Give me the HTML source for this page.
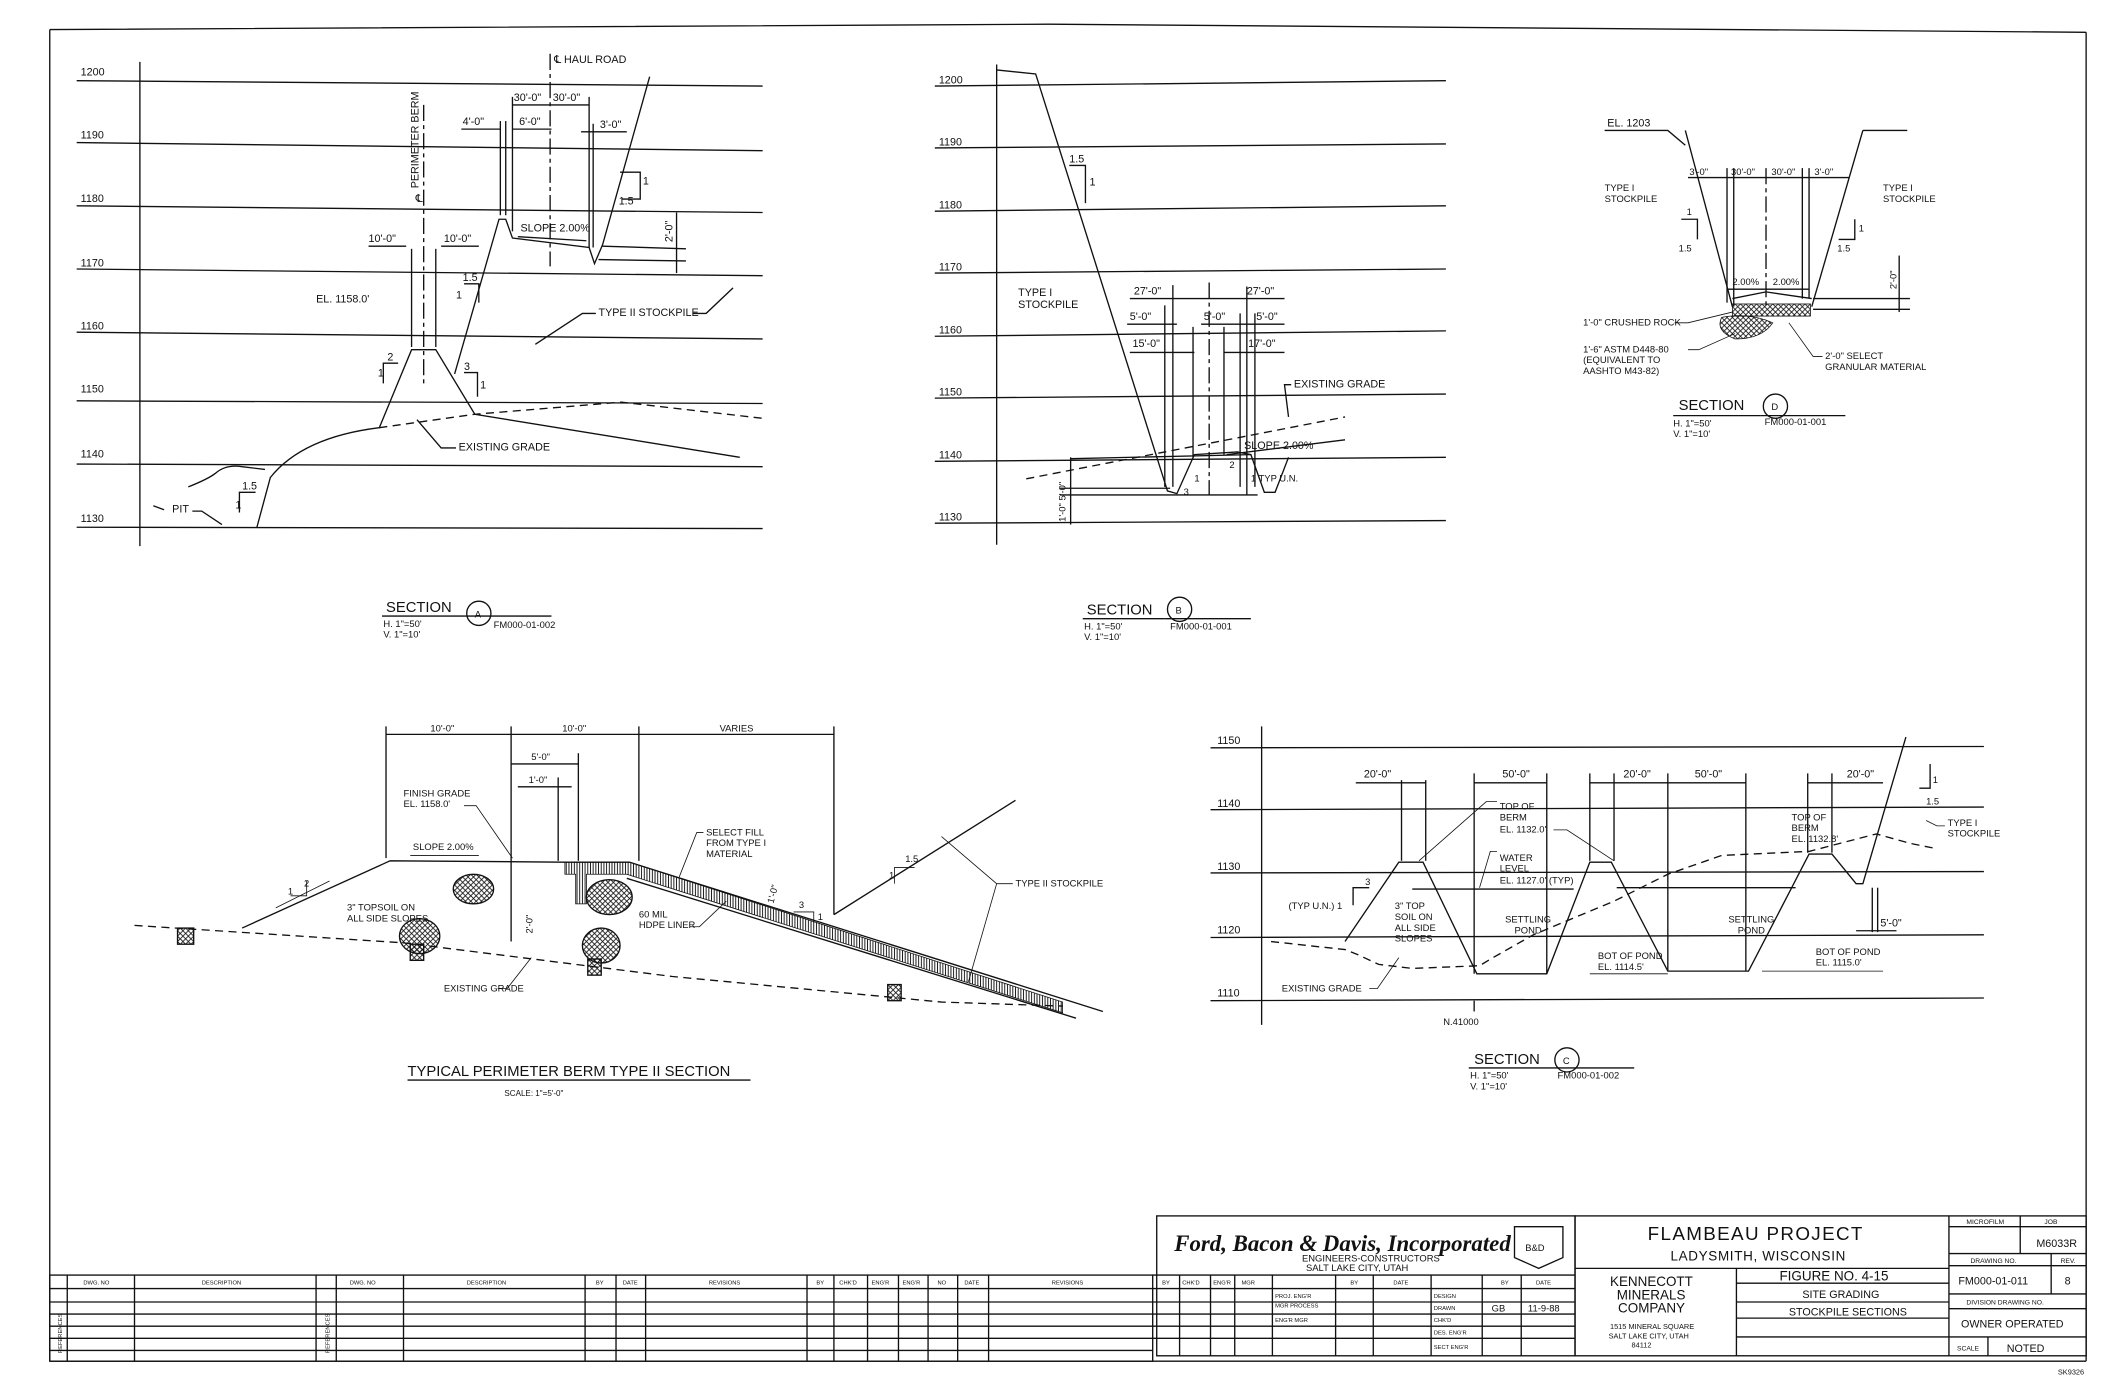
<!DOCTYPE html>
<html><head><meta charset="utf-8"><style>
html,body{margin:0;padding:0;background:#fff;}
svg{display:block;}
text{font-family:"Liberation Sans Narrow","Liberation Sans",sans-serif;font-size:8px;fill:#111;}
text.t{font-size:7px}
g.s text, text.s{font-size:4.3px}
g.f5 text{font-size:5px}
g.f55 text{font-size:5.5px}
line,path,polyline,rect,circle,ellipse{stroke:#111;fill:none;stroke-width:1}
.g{stroke-width:1.1}
.d{stroke-dasharray:6 4}
.c{stroke-dasharray:12 3 3 3}
.th{stroke-width:0.6}
</style></head><body>
<svg width="2109" height="1380" viewBox="0 0 1568 1026" preserveAspectRatio="none" xmlns="http://www.w3.org/2000/svg">
<defs>
<pattern id="hx" width="4" height="4" patternUnits="userSpaceOnUse"><path d="M0 4L4 0M0 0L4 4" style="stroke:#111;stroke-width:0.6"/></pattern>
<pattern id="vl" width="2" height="2" patternUnits="userSpaceOnUse"><path d="M1 0V2" style="stroke:#111;stroke-width:0.7"/></pattern>
</defs>
<!-- border -->
<path d="M37 22 Q400 20 780 18 Q1100 22 1551 24" stroke-width="2.2"/>
<line x1="37" y1="22" x2="37" y2="1012" stroke-width="2"/>
<line x1="1551" y1="24" x2="1551" y2="1012" stroke-width="2"/>
<line x1="37" y1="1012" x2="1551" y2="1012" stroke-width="1.5"/>

<!-- ========== SECTION A ========== -->
<g class="g">
<line x1="57" y1="60" x2="567" y2="64"/><line x1="57" y1="106" x2="567" y2="112"/>
<line x1="57" y1="153" x2="567" y2="158"/><line x1="57" y1="200" x2="567" y2="205"/>
<line x1="57" y1="247" x2="567" y2="252"/><line x1="57" y1="298" x2="567" y2="300"/>
<line x1="57" y1="345" x2="567" y2="347"/><line x1="57" y1="392" x2="567" y2="393"/>
</g>
<line x1="104" y1="46" x2="104" y2="406"/>
<text x="60" y="56">1200</text><text x="60" y="103">1190</text><text x="60" y="150">1180</text><text x="60" y="198">1170</text><text x="60" y="245">1160</text><text x="60" y="292">1150</text><text x="60" y="340">1140</text><text x="60" y="388">1130</text>
<path d="M191 392 L201 355 Q225 325 282 318 L306 260 L324 260 L353 308 L550 340"/>
<path class="d" d="M282 318 L353 308 L462 299 L567 311"/>
<path d="M140 362 Q155 356 160 352 Q168 345 180 347 L197 349"/>
<path d="M338 278 L371 163 L376 163 L381 177 L438 184 L442 196 L448 182 L483 57"/>
<line x1="448" y1="183" x2="510" y2="185"/><line x1="445" y1="193" x2="510" y2="194"/>
<line class="c" x1="315" y1="78" x2="315" y2="285"/>
<line class="c" x1="409" y1="40" x2="409" y2="198"/>
<text x="412" y="47">℄ HAUL ROAD</text>
<text transform="translate(311,140) rotate(-90)">PERIMETER BERM</text>
<text x="309" y="150">℄</text>
<line x1="306" y1="185" x2="306" y2="258"/><line x1="324" y1="185" x2="324" y2="258"/>
<line x1="274" y1="183" x2="302" y2="183"/><line x1="328" y1="183" x2="356" y2="183"/>
<text x="274" y="180">10'-0"</text><text x="330" y="180">10'-0"</text>
<line x1="372" y1="90" x2="372" y2="160"/><line x1="376" y1="90" x2="376" y2="160"/><line x1="381" y1="72" x2="381" y2="172"/>
<line x1="438" y1="72" x2="438" y2="184"/><line x1="441" y1="92" x2="441" y2="184"/>
<line x1="381" y1="78" x2="438" y2="78"/><text x="382" y="75">30'-0"</text><text x="411" y="75">30'-0"</text>
<line x1="343" y1="96" x2="372" y2="96"/><text x="344" y="93">4'-0"</text>
<line x1="381" y1="96" x2="410" y2="96"/><text x="386" y="93">6'-0"</text>
<line x1="432" y1="98" x2="466" y2="98"/><text x="446" y="95">3'-0"</text>
<text x="387" y="172">SLOPE 2.00%</text><line x1="385" y1="176" x2="436" y2="179"/>
<line x1="503" y1="158" x2="503" y2="203"/><text transform="translate(500,180) rotate(-90)">2'-0"</text>
<path d="M461 128 L476 128 L476 148 L462 148"/><text x="478" y="137">1</text><text x="460" y="152">1.5</text>
<text x="235" y="225">EL. 1158.0'</text>
<path d="M345 211 L356 211 L356 225"/><text x="344" y="209">1.5</text><text x="339" y="222">1</text>
<path d="M285 285 L285 270 L296 270"/><text x="288" y="268">2</text><text x="281" y="280">1</text>
<path d="M345 277 L355 277 L355 295"/><text x="345" y="275">3</text><text x="357" y="289">1</text>
<path d="M178 381 L178 366 L190 366"/><text x="180" y="364">1.5</text><text x="175" y="378">1</text>
<text x="445" y="235">TYPE II STOCKPILE</text>
<path d="M443 233 L433 233 L398 256"/><path d="M515 233 L525 233 L545 214"/>
<text x="341" y="335">EXISTING GRADE</text><path d="M339 333 L328 333 L310 312"/>
<text x="128" y="381">PIT</text><path d="M114 376 L122 379 M143 380 L150 380 L165 390"/>
<text x="287" y="455" style="font-size:11px">SECTION</text><line x1="284" y1="458" x2="345" y2="458"/>
<circle cx="356" cy="456" r="9"/><text x="353" y="459" class="t">A</text>
<text x="285" y="466" class="t">H. 1"=50'</text><text x="285" y="474" class="t">V. 1"=10'</text>
<line x1="345" y1="458" x2="410" y2="458"/><text x="367" y="467" class="t">FM000-01-002</text>

<!-- ========== SECTION B ========== -->
<g class="g">
<line x1="695" y1="64" x2="1075" y2="60"/><line x1="695" y1="110" x2="1075" y2="107"/>
<line x1="695" y1="157" x2="1075" y2="153"/><line x1="695" y1="203" x2="1075" y2="200"/>
<line x1="695" y1="250" x2="1075" y2="246"/><line x1="695" y1="296" x2="1075" y2="293"/>
<line x1="695" y1="343" x2="1075" y2="340"/><line x1="695" y1="389" x2="1075" y2="387"/>
</g>
<line x1="741" y1="48" x2="741" y2="405"/>
<text x="698" y="62">1200</text><text x="698" y="108">1190</text><text x="698" y="155">1180</text><text x="698" y="201">1170</text><text x="698" y="248">1160</text><text x="698" y="294">1150</text><text x="698" y="341">1140</text><text x="698" y="387">1130</text>
<path d="M741 52 L770 55 L868 365 L875 367 L888 338 L920 336 L930 338 L940 366 L948 366 L958 340"/>
<path class="d" d="M763 356 L1000 310"/>
<line x1="796" y1="341" x2="930" y2="338"/>
<line x1="788" y1="363" x2="870" y2="363"/><line x1="788" y1="368" x2="935" y2="368"/>
<line x1="796" y1="340" x2="796" y2="390"/>
<text transform="translate(792,388) rotate(-90)" class="t">1'-0"  5'-0"</text>
<g class="th">
<line x1="866" y1="227" x2="866" y2="362"/><line x1="872" y1="212" x2="872" y2="362"/><line x1="887" y1="243" x2="887" y2="340"/>
<line class="c" x1="899" y1="210" x2="899" y2="368"/><line x1="910" y1="243" x2="910" y2="338"/>
<line x1="922" y1="233" x2="922" y2="362"/><line x1="927" y1="213" x2="927" y2="368"/><line x1="933" y1="233" x2="933" y2="362"/>
</g>
<line x1="840" y1="222" x2="955" y2="222"/><text x="843" y="219">27'-0"</text><text x="927" y="219">27'-0"</text>
<line x1="838" y1="241" x2="875" y2="241"/><text x="840" y="238">5'-0"</text>
<line x1="893" y1="241" x2="955" y2="241"/><text x="895" y="238">5'-0"</text><text x="934" y="238">5'-0"</text>
<line x1="840" y1="262" x2="888" y2="262"/><text x="842" y="258">15'-0"</text>
<line x1="910" y1="262" x2="955" y2="262"/><text x="928" y="258">17'-0"</text>
<text x="757" y="220">TYPE I</text><text x="757" y="229">STOCKPILE</text>
<path d="M795 123 L807 123 L807 151"/><text x="795" y="121">1.5</text><text x="810" y="138">1</text>
<text x="962" y="288">EXISTING GRADE</text><path d="M960 286 L955 286 L958 310"/>
<text x="925" y="334">SLOPE 2.00%</text><line x1="912" y1="338" x2="1000" y2="327"/>
<text x="914" y="348" class="t">2</text><text x="930" y="358" class="t">1 TYP U.N.</text>
<text x="880" y="368" class="t">3</text><text x="888" y="358" class="t">1</text>
<text x="808" y="457" style="font-size:11px">SECTION</text><line x1="805" y1="460" x2="866" y2="460"/>
<circle cx="877" cy="453" r="9"/><text x="874" y="456" class="t">B</text>
<text x="806" y="468" class="t">H. 1"=50'</text><text x="806" y="476" class="t">V. 1"=10'</text>
<line x1="866" y1="460" x2="930" y2="460"/><text x="870" y="468" class="t">FM000-01-001</text>

<!-- ========== SECTION D ========== -->
<text x="1195" y="94">EL. 1203</text><path d="M1193 97 L1240 97 L1253 108"/>
<path d="M1253 97 L1288 228"/><path d="M1385 97 L1347 228"/><line x1="1385" y1="97" x2="1418" y2="97"/>
<g class="th">
<line x1="1284" y1="125" x2="1284" y2="225"/><line x1="1289" y1="125" x2="1289" y2="228"/>
<line class="c" x1="1313" y1="125" x2="1313" y2="230"/>
<line x1="1340" y1="125" x2="1340" y2="222"/><line x1="1345" y1="125" x2="1345" y2="222"/>
</g>
<line x1="1255" y1="132" x2="1375" y2="132"/>
<text x="1256" y="130" class="t">3'-0"</text><text x="1287" y="130" class="t">30'-0"</text><text x="1317" y="130" class="t">30'-0"</text><text x="1349" y="130" class="t">3'-0"</text>
<text x="1193" y="142" class="t">TYPE I</text><text x="1193" y="150" class="t">STOCKPILE</text>
<text x="1400" y="142" class="t">TYPE I</text><text x="1400" y="150" class="t">STOCKPILE</text>
<path d="M1250 163 L1262 163 L1262 178"/><text x="1254" y="160" class="t">1</text><text x="1248" y="187" class="t">1.5</text>
<path d="M1367 178 L1379 178 L1379 163"/><text x="1382" y="172" class="t">1</text><text x="1366" y="187" class="t">1.5</text>
<path d="M1288 222 L1313 217 L1347 222"/>
<text x="1288" y="212" class="t">2.00%</text><text x="1318" y="212" class="t">2.00%</text>
<line x1="1284" y1="215" x2="1345" y2="215"/>
<line x1="1348" y1="222" x2="1420" y2="222"/><line x1="1348" y1="230" x2="1420" y2="230"/>
<line x1="1412" y1="190" x2="1412" y2="232"/><text transform="translate(1410,215) rotate(-90)" class="t">2'-0"</text>
<rect x="1288" y="226" width="58" height="9" style="fill:url(#hx)" class="th"/>
<path d="M1280 236 Q1300 232 1318 240 Q1310 252 1290 252 Q1275 246 1280 236Z" style="fill:url(#hx)" class="th"/>
<text x="1177" y="242" class="t">1'-0" CRUSHED ROCK</text><path d="M1245 240 L1255 240 L1288 232" class="th"/>
<text x="1177" y="262" class="t">1'-6" ASTM D448-80</text><text x="1177" y="270" class="t">(EQUIVALENT TO</text><text x="1177" y="278" class="t">AASHTO M43-82)</text>
<path d="M1255 260 L1263 260 L1290 248" class="th"/>
<text x="1357" y="267" class="t">2'-0" SELECT</text><text x="1357" y="275" class="t">GRANULAR MATERIAL</text>
<path d="M1355 265 L1348 265 L1330 240" class="th"/>
<text x="1248" y="305" style="font-size:11px">SECTION</text><line x1="1244" y1="309" x2="1309" y2="309"/>
<circle cx="1320" cy="302" r="9"/><text x="1317" y="305" class="t">D</text>
<text x="1244" y="317" class="t">H. 1"=50'</text><text x="1244" y="325" class="t">V. 1"=10'</text>
<line x1="1309" y1="309" x2="1372" y2="309"/><text x="1312" y="316" class="t">FM000-01-001</text>

<!-- ========== SECTION C ========== -->
<g class="g">
<line x1="900" y1="556" x2="1475" y2="555"/><line x1="900" y1="602" x2="1475" y2="600"/>
<line x1="900" y1="649" x2="1475" y2="648"/><line x1="900" y1="697" x2="1475" y2="695"/>
<line x1="900" y1="744" x2="1475" y2="742"/>
</g>
<line x1="938" y1="540" x2="938" y2="762"/>
<text x="905" y="553">1150</text><text x="905" y="600">1140</text><text x="905" y="647">1130</text><text x="905" y="694">1120</text><text x="905" y="741">1110</text>
<path d="M1000 700 L1040 641 L1058 641 L1098 724 L1150 724 L1182 641 L1198 641 L1240 722 L1300 722 L1345 635 L1362 635 L1380 657 L1385 657 L1417 548"/>
<line x1="1050" y1="661" x2="1170" y2="661"/><line x1="1202" y1="660" x2="1335" y2="660"/>
<path class="d" d="M945 700 L1000 706 L1010 710 L1025 717 L1050 720 L1100 718 L1110 712 L1140 695 L1200 670 L1240 650 L1280 636 L1345 633 L1395 620 L1420 627 L1440 631"/>
<g class="th">
<line x1="1042" y1="580" x2="1042" y2="640"/><line x1="1060" y1="580" x2="1060" y2="640"/>
<line x1="1096" y1="575" x2="1096" y2="724"/><line x1="1150" y1="575" x2="1150" y2="724"/>
<line x1="1182" y1="575" x2="1182" y2="640"/><line x1="1200" y1="575" x2="1200" y2="640"/>
<line x1="1240" y1="575" x2="1240" y2="722"/><line x1="1298" y1="575" x2="1298" y2="722"/>
<line x1="1344" y1="575" x2="1344" y2="634"/><line x1="1362" y1="575" x2="1362" y2="634"/>
<line x1="1392" y1="660" x2="1392" y2="693"/><line x1="1396" y1="660" x2="1396" y2="693"/>
</g>
<line x1="1008" y1="582" x2="1060" y2="582"/><text x="1014" y="578">20'-0"</text>
<line x1="1096" y1="582" x2="1150" y2="582"/><text x="1117" y="578">50'-0"</text>
<line x1="1182" y1="582" x2="1240" y2="582"/><text x="1207" y="578">20'-0"</text>
<line x1="1240" y1="582" x2="1298" y2="582"/><text x="1260" y="578">50'-0"</text>
<line x1="1344" y1="582" x2="1400" y2="582"/><text x="1373" y="578">20'-0"</text>
<line x1="1380" y1="692" x2="1410" y2="692"/><text x="1398" y="689">5'-0"</text>
<path d="M1427 586 L1435 586 L1435 568"/><text x="1437" y="582" class="t">1</text><text x="1432" y="598" class="t">1.5</text>
<text x="1448" y="614" class="t">TYPE I</text><text x="1448" y="622" class="t">STOCKPILE</text><path d="M1446 614 L1440 614 L1432 610" class="th"/>
<text x="1115" y="602" class="t">TOP OF</text><text x="1115" y="610" class="t">BERM</text><text x="1115" y="619" class="t">EL. 1132.0'</text>
<path d="M1113 596 L1105 596 L1055 640 M1155 617 L1165 617 L1200 640" class="th"/>
<text x="1115" y="640" class="t">WATER</text><text x="1115" y="648" class="t">LEVEL</text><text x="1115" y="657" class="t">EL. 1127.0' (TYP)</text>
<path d="M1113 633 L1108 633 L1100 660" class="th"/>
<text x="1119" y="686" class="t">SETTLING</text><text x="1126" y="694" class="t">POND</text>
<text x="1285" y="686" class="t">SETTLING</text><text x="1292" y="694" class="t">POND</text>
<text x="1188" y="713" class="t">BOT OF POND</text><text x="1188" y="721" class="t">EL. 1114.5'</text><line x1="1182" y1="724" x2="1240" y2="724" class="th"/>
<text x="1332" y="610" class="t">TOP OF</text><text x="1332" y="618" class="t">BERM</text><text x="1332" y="626" class="t">EL. 1132.8'</text>
<text x="1350" y="710" class="t">BOT OF POND</text><text x="1350" y="718" class="t">EL. 1115.0'</text><line x1="1310" y1="722" x2="1400" y2="722" class="th"/>
<path d="M1006 673 L1006 660 L1018 660"/><text x="1015" y="658" class="t">3</text>
<text x="958" y="676" class="t">(TYP U.N.) 1</text>
<text x="1037" y="676" class="t">3" TOP</text><text x="1037" y="684" class="t">SOIL ON</text><text x="1037" y="692" class="t">ALL SIDE</text><text x="1037" y="700" class="t">SLOPES</text>
<text x="953" y="737" class="t">EXISTING GRADE</text><path d="M1018 735 L1024 735 L1040 712" class="th"/>
<line x1="1096" y1="744" x2="1096" y2="752"/><text x="1073" y="762" class="t">N.41000</text>
<text x="1096" y="791" style="font-size:11px">SECTION</text><line x1="1092" y1="794" x2="1155" y2="794"/>
<circle cx="1165" cy="788" r="9"/><text x="1162" y="791" class="t">C</text>
<text x="1093" y="802" class="t">H. 1"=50'</text><text x="1093" y="810" class="t">V. 1"=10'</text>
<line x1="1155" y1="794" x2="1215" y2="794"/><text x="1158" y="802" class="t">FM000-01-002</text>

<!-- ========== TYPICAL BERM ========== -->
<g class="th">
<line x1="287" y1="540" x2="287" y2="638"/><line x1="380" y1="540" x2="380" y2="700"/>
<line x1="475" y1="540" x2="475" y2="640"/><line x1="620" y1="540" x2="620" y2="680"/>
<line x1="430" y1="560" x2="430" y2="640"/><line x1="415" y1="578" x2="415" y2="640"/>
</g>
<line x1="287" y1="546" x2="620" y2="546"/>
<text x="320" y="544" class="t">10'-0"</text><text x="418" y="544" class="t">10'-0"</text><text x="535" y="544" class="t">VARIES</text>
<line x1="380" y1="568" x2="430" y2="568"/><text x="395" y="565" class="t">5'-0"</text>
<line x1="385" y1="585" x2="425" y2="585"/><text x="393" y="582" class="t">1'-0"</text>
<path d="M180 690 L290 640 L420 641 L468 641 L820 752"/>
<path d="M420 641 L468 641 L790 745 L790 753 L466 650 L436 650 L436 672 L428 672 L428 650 L420 650Z" style="fill:url(#vl)" class="th"/>
<line x1="466" y1="653" x2="800" y2="757"/>
<path class="d" d="M100 688 L300 701 L500 726 L700 745 L790 748" stroke-width="0.8"/>
<line x1="620" y1="680" x2="755" y2="595"/>
<g class="th" style="fill:url(#hx)">
<ellipse cx="352" cy="661" rx="15" ry="11" style="fill:url(#hx)"/><ellipse cx="453" cy="667" rx="17" ry="13" style="fill:url(#hx)"/>
<ellipse cx="312" cy="696" rx="15" ry="13" style="fill:url(#hx)"/><ellipse cx="447" cy="703" rx="14" ry="13" style="fill:url(#hx)"/>
<rect x="132" y="690" width="12" height="12" style="fill:url(#hx)"/><rect x="305" y="702" width="10" height="12" style="fill:url(#hx)"/>
<rect x="437" y="713" width="10" height="12" style="fill:url(#hx)"/><rect x="660" y="732" width="10" height="12" style="fill:url(#hx)"/>
</g>
<text x="300" y="592" class="t">FINISH GRADE</text><text x="300" y="600" class="t">EL. 1158.0'</text>
<path d="M345 599 L354 599 L381 638" class="th"/>
<text x="307" y="632" class="t">SLOPE 2.00%</text><line x1="305" y1="636" x2="356" y2="636" class="th"/>
<path d="M216 666 L228 666 L228 655" class="th"/><text x="226" y="659" class="t">2</text><text x="214" y="665" class="t">1</text>
<line x1="205" y1="675" x2="245" y2="655" class="th"/>
<text x="258" y="677" class="t">3" TOPSOIL ON</text><text x="258" y="685" class="t">ALL SIDE SLOPES</text>
<text transform="translate(396,694) rotate(-90)" class="t">2'-0"</text>
<text x="525" y="621" class="t">SELECT FILL</text><text x="525" y="629" class="t">FROM TYPE I</text><text x="525" y="637" class="t">MATERIAL</text>
<path d="M523 619 L518 619 L505 652" class="th"/>
<text x="475" y="682" class="t">60 MIL</text><text x="475" y="690" class="t">HDPE LINER</text>
<path d="M513 689 L520 689 L540 670" class="th"/>
<text transform="translate(575,672) rotate(-75)" class="t">1'-0"</text>
<path d="M590 678 L605 678 L605 686" class="th"/><text x="594" y="675" class="t">3</text><text x="608" y="684" class="t">1</text>
<path d="M665 657 L665 645 L680 645" class="th"/><text x="673" y="641" class="t">1.5</text><text x="661" y="653" class="t">1</text>
<text x="755" y="659" class="t">TYPE II STOCKPILE</text>
<path d="M753 657 L741 657 L700 622 M741 657 L720 730" class="th"/>
<text x="330" y="737" class="t">EXISTING GRADE</text><path d="M370 735 L377 735 L395 712" class="th"/>
<text x="303" y="800" style="font-size:11px">TYPICAL PERIMETER BERM TYPE II SECTION</text>
<line x1="303" y1="803" x2="558" y2="803"/>
<text x="375" y="815" style="font-size:6px">SCALE: 1"=5'-0"</text>

<!-- ========== TITLE BLOCK ========== -->
<g class="th">
<rect x="37" y="948" width="820" height="64"/>
<line x1="37" y1="958" x2="857" y2="958"/>
<line x1="37" y1="968" x2="857" y2="968"/><line x1="37" y1="977" x2="857" y2="977"/>
<line x1="37" y1="986" x2="857" y2="986"/><line x1="37" y1="995" x2="857" y2="995"/><line x1="37" y1="1004" x2="857" y2="1004"/>
<line x1="50" y1="948" x2="50" y2="1012"/><line x1="100" y1="948" x2="100" y2="1012"/><line x1="235" y1="948" x2="235" y2="1012"/>
<line x1="250" y1="948" x2="250" y2="1012"/><line x1="300" y1="948" x2="300" y2="1012"/><line x1="435" y1="948" x2="435" y2="1012"/>
<line x1="458" y1="948" x2="458" y2="1012"/><line x1="480" y1="948" x2="480" y2="1012"/><line x1="600" y1="948" x2="600" y2="1012"/>
<line x1="620" y1="948" x2="620" y2="1012"/><line x1="645" y1="948" x2="645" y2="1012"/><line x1="668" y1="948" x2="668" y2="1012"/>
<line x1="690" y1="948" x2="690" y2="1012"/><line x1="712" y1="948" x2="712" y2="1012"/><line x1="735" y1="948" x2="735" y2="1012"/>
</g>
<g class="s">
<text x="62" y="955">DWG. NO</text><text x="150" y="955">DESCRIPTION</text><text x="260" y="955">DWG. NO</text><text x="347" y="955">DESCRIPTION</text>
<text x="443" y="955">BY</text><text x="463" y="955">DATE</text><text x="527" y="955">REVISIONS</text><text x="607" y="955">BY</text><text x="624" y="955">CHK'D</text><text x="648" y="955">ENG'R</text><text x="671" y="955">ENG'R</text>
<text x="697" y="955">NO</text><text x="717" y="955">DATE</text><text x="782" y="955">REVISIONS</text>
<text transform="translate(46,1006) rotate(-90)">REFERENCES</text>
<text transform="translate(245,1006) rotate(-90)">REFERENCES</text>
</g>
<!-- Ford box -->
<g class="th">
<rect x="860" y="904" width="311" height="104" stroke-width="1.2"/>
<line x1="857" y1="948" x2="1171" y2="948"/>
<line x1="857" y1="958" x2="1171" y2="958"/><line x1="857" y1="968" x2="1171" y2="968"/>
<line x1="857" y1="977" x2="1171" y2="977"/><line x1="857" y1="986" x2="1171" y2="986"/><line x1="857" y1="995" x2="1171" y2="995"/>
<line x1="877" y1="948" x2="877" y2="1008"/><line x1="900" y1="948" x2="900" y2="1008"/><line x1="918" y1="948" x2="918" y2="1008"/>
<line x1="946" y1="948" x2="946" y2="1008"/><line x1="993" y1="948" x2="993" y2="1008"/><line x1="1021" y1="948" x2="1021" y2="1008"/>
<line x1="1064" y1="948" x2="1064" y2="1008"/><line x1="1102" y1="948" x2="1102" y2="1008"/><line x1="1131" y1="948" x2="1131" y2="1008"/>
</g>
<text x="873" y="930" style="font-family:'Liberation Serif',serif;font-size:17px;font-weight:bold;font-style:italic">Ford, Bacon &amp; Davis, Incorporated</text>
<text x="968" y="938" class="t">ENGINEERS-CONSTRUCTORS</text><text x="971" y="945" class="t">SALT LAKE CITY, UTAH</text>
<path d="M1126 912 L1162 912 L1162 935 L1144 943 L1126 935Z"/><text x="1134" y="930" class="t">B&amp;D</text>
<g class="s">
<text x="864" y="955">BY</text><text x="879" y="955">CHK'D</text><text x="902" y="955">ENG'R</text><text x="923" y="955">MGR</text>
<text x="1004" y="955">BY</text><text x="1036" y="955">DATE</text><text x="1116" y="955">BY</text><text x="1142" y="955">DATE</text>
<text x="948" y="965">PROJ. ENG'R</text><text x="948" y="972">MGR PROCESS</text><text x="948" y="983">ENG'R MGR</text>
<text x="1066" y="965">DESIGN</text><text x="1066" y="974">DRAWN</text><text x="1066" y="983">CHK'D</text><text x="1066" y="992">DES. ENG'R</text><text x="1066" y="1003">SECT ENG'R</text>
</g>
<text x="1109" y="975" class="t">GB</text><text x="1136" y="975" class="t">11-9-88</text>
<!-- Flambeau -->
<g class="th">
<rect x="1171" y="904" width="380" height="104" stroke-width="1.2"/>
<line x1="1171" y1="943" x2="1449" y2="943" stroke-width="1.2"/>
<line x1="1291" y1="943" x2="1291" y2="1008"/>
<line x1="1291" y1="954" x2="1449" y2="954"/><line x1="1291" y1="968" x2="1449" y2="968"/>
<line x1="1291" y1="980" x2="1449" y2="980"/><line x1="1291" y1="994" x2="1449" y2="994"/>
<line x1="1449" y1="904" x2="1449" y2="1008"/>
<line x1="1449" y1="912" x2="1551" y2="912"/><line x1="1449" y1="932" x2="1551" y2="932"/>
<line x1="1449" y1="941" x2="1551" y2="941"/><line x1="1449" y1="962" x2="1551" y2="962"/>
<line x1="1449" y1="973" x2="1551" y2="973"/><line x1="1449" y1="994" x2="1551" y2="994"/>
<line x1="1502" y1="904" x2="1502" y2="932"/><line x1="1525" y1="932" x2="1525" y2="962"/><line x1="1478" y1="994" x2="1478" y2="1008"/>
</g>
<text x="1225" y="922" style="font-size:14px;letter-spacing:1px">FLAMBEAU  PROJECT</text>
<text x="1242" y="937" style="font-size:10px;letter-spacing:0.5px">LADYSMITH, WISCONSIN</text>
<text x="1197" y="956" style="font-size:10px">KENNECOTT</text><text x="1202" y="966" style="font-size:10px">MINERALS</text><text x="1203" y="976" style="font-size:10px">COMPANY</text>
<g class="f55"><text x="1197" y="988">1515 MINERAL SQUARE</text><text x="1196" y="995">SALT LAKE CITY, UTAH</text><text x="1213" y="1002">84112</text></g>
<text x="1323" y="952" style="font-size:10px">FIGURE NO. 4-15</text>
<text x="1340" y="965">SITE GRADING</text><text x="1330" y="978">STOCKPILE SECTIONS</text>
<g class="f5"><text x="1462" y="910">MICROFILM</text><text x="1520" y="910">JOB</text><text x="1465" y="939">DRAWING NO.</text><text x="1532" y="939">REV.</text>
<text x="1462" y="970">DIVISION DRAWING NO.</text><text x="1455" y="1004">SCALE</text></g>
<text x="1514" y="927">M6033R</text>
<text x="1456" y="955">FM000-01-011</text><text x="1535" y="955">8</text>
<text x="1458" y="987">OWNER OPERATED</text><text x="1492" y="1005">NOTED</text>
<g class="f55"><text x="1530" y="1022">SK9326</text></g>
</svg>
</body></html>
